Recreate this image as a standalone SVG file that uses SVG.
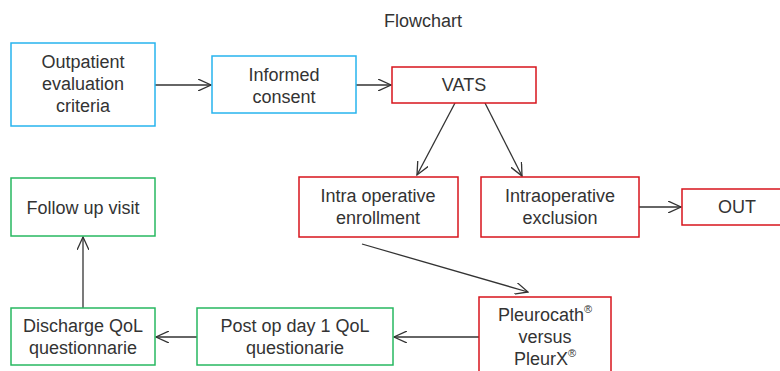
<svg xmlns="http://www.w3.org/2000/svg" width="780" height="371" viewBox="0 0 780 371">
<style>
text{font-family:"Liberation Sans",Arial,sans-serif;font-size:18px;fill:#333;text-anchor:middle}
.b{fill:#fff;stroke:#27b4ee;stroke-width:1.5}
.r{fill:#fff;stroke:#d7151d;stroke-width:1.5}
.g{fill:#fff;stroke:#27b860;stroke-width:1.5}
.c{stroke:#333;stroke-width:1.3;fill:none;marker-end:url(#a)}
.s{font-size:11px}
</style>
<defs>
<marker id="a" viewBox="0 0 14 12" refX="13" refY="6" markerWidth="14" markerHeight="12" markerUnits="userSpaceOnUse" orient="auto">
<path d="M0,0 L13,6 L0,12" fill="none" stroke="#333" stroke-width="1.3"/>
</marker>
</defs>
<text x="423" y="27">Flowchart</text>
<g id="connectors">
<line class="c" x1="155" y1="85" x2="211" y2="85"/>
<line class="c" x1="356" y1="85" x2="391" y2="85"/>
<line class="c" x1="455" y1="103" x2="417" y2="175"/>
<line class="c" x1="485" y1="103" x2="522" y2="176"/>
<line class="c" x1="639" y1="207" x2="681" y2="207"/>
<line class="c" x1="362" y1="244" x2="528" y2="292"/>
<line class="c" x1="479" y1="337" x2="394" y2="337"/>
<line class="c" x1="197" y1="337" x2="156" y2="337"/>
<line class="c" x1="83" y1="308" x2="83" y2="237"/>
</g>
<g id="outpatient"><rect class="b" x="11" y="43" width="144" height="83"/><text x="83" y="68">Outpatient</text><text x="83" y="90">evaluation</text><text x="83" y="112">criteria</text></g>
<g id="consent"><rect class="b" x="212" y="56" width="144" height="57"/><text x="284" y="81">Informed</text><text x="284" y="103">consent</text></g>
<g id="vats"><rect class="r" x="392" y="67" width="144" height="36"/><text x="464" y="91">VATS</text></g>
<g id="enroll"><rect class="r" x="299" y="177" width="159" height="60"/><text x="378" y="202">Intra operative</text><text x="378" y="224">enrollment</text></g>
<g id="exclusion"><rect class="r" x="481" y="177" width="158" height="60"/><text x="560" y="202">Intraoperative</text><text x="560" y="224">exclusion</text></g>
<g id="out"><rect class="r" x="682" y="189" width="110" height="36"/><text x="737" y="213">OUT</text></g>
<g id="pleuro"><rect class="r" x="479" y="297" width="132" height="80"/><text x="545" y="321">Pleurocath<tspan class="s" dy="-8">®</tspan></text><text x="545" y="343">versus</text><text x="545" y="365">PleurX<tspan class="s" dy="-8">®</tspan></text></g>
<g id="postop"><rect class="g" x="197" y="308" width="196" height="57"/><text x="295" y="332">Post op day 1 QoL</text><text x="295" y="354">questionarie</text></g>
<g id="discharge"><rect class="g" x="11" y="308" width="144" height="57"/><text x="83" y="332">Discharge QoL</text><text x="83" y="354">questionnarie</text></g>
<g id="followup"><rect class="g" x="11" y="178" width="144" height="58"/><text x="83" y="214">Follow up visit</text></g>
</svg>
